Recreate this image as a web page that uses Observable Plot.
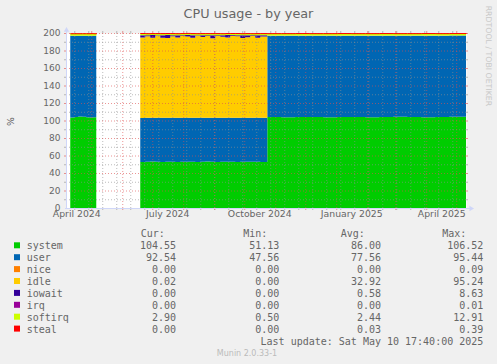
<!DOCTYPE html>
<html>
<head>
<meta charset="utf-8">
<script src="https://cdn.jsdelivr.net/npm/d3@7"></script>
<script src="https://cdn.jsdelivr.net/npm/@observablehq/plot@0.6"></script>
<style>
html, body { margin: 0; padding: 0; background: #F0F0F0; }
#chart { position: relative; width: 497px; height: 364px; overflow: hidden; background: #F0F0F0; }
#chart > svg { position: absolute; left: 0; top: 0; }
</style>
</head>
<body>
<div id="chart"></div>
<script>
// ---------- DATA ----------
const chartTitle = "CPU usage - by year";
const yAxisLabel = "%";
const lastUpdate = "Last update: Sat May 10 17:40:00 2025";
const footerText = "Munin 2.0.33-1";
const watermark = "RRDTOOL / TOBI OETIKER";

const seriesNames = ["system", "user", "nice", "idle", "iowait", "irq", "softirq", "steal"];
const seriesColors = ["#00CC00", "#0066B3", "#FF8000", "#FFCC00", "#330099", "#990099", "#CCFF00", "#FF0000"];

const curValues = ["104.55", "92.54", "0.00", "0.02", "0.00", "0.00", "2.90", "0.00"];
const minValues = ["51.13", "47.56", "0.00", "0.00", "0.00", "0.00", "0.50", "0.00"];
const avgValues = ["86.00", "77.56", "0.00", "32.92", "0.58", "0.00", "2.44", "0.03"];
const maxValues = ["106.52", "95.44", "0.09", "95.24", "8.63", "0.01", "12.91", "0.39"];

const yLabelTicks = [0, 20, 40, 60, 80, 100, 120, 140, 160, 180, 200];
const yMajorTicks = [20, 40, 60, 80, 100, 120, 140, 160, 180, 200];
const yMinorTicks = [10, 30, 50, 70, 90, 110, 130, 150, 170, 190];

const xLabelDates = ["2024-04-16", "2024-07-16", "2024-10-16", "2025-01-16", "2025-04-16"];
const xLabels = ["April 2024", "July 2024", "October 2024", "January 2025", "April 2025"];

const rangeEnd = "2025-05-10T17:40";
const rangeDays = 400;
const minorGridStart = "2024-04-14";

const dates = [
  "2024-04-10","2024-04-14","2024-04-18","2024-04-22","2024-04-26","2024-04-30","2024-05-03","2024-05-06",
  "2024-05-07",
  "2024-06-19","2024-06-24","2024-06-29","2024-07-04","2024-07-09","2024-07-14","2024-07-19","2024-07-24","2024-07-29",
  "2024-08-03","2024-08-08","2024-08-13","2024-08-18","2024-08-23","2024-08-28","2024-09-02","2024-09-07","2024-09-12",
  "2024-09-17","2024-09-22","2024-09-27","2024-10-02","2024-10-07","2024-10-12","2024-10-17",
  "2024-10-24","2024-11-07","2024-11-21","2024-12-05","2024-12-19","2025-01-02","2025-01-16","2025-01-30",
  "2025-02-13","2025-02-27","2025-03-13","2025-03-27","2025-04-10","2025-04-24","2025-05-10T17:40"
];
const system = [
  103.4,104.1,104.6,104.3,103.8,103.5,103.7,103.7,
  null,
  52.6,52.9,53.1,52.8,52.7,53.0,52.9,52.6,52.8,53.0,52.9,52.7,52.8,53.1,52.9,52.7,52.8,53.0,52.9,52.7,52.8,52.9,53.0,52.8,52.7,
  104.0,103.8,103.9,104.1,103.7,103.9,104.0,103.8,103.9,104.2,103.9,103.8,104.0,104.3,104.55
];
const user = [
  93.4,92.7,92.3,92.6,93.1,93.4,93.2,93.2,
  null,
  50.4,50.2,50.1,50.3,50.4,50.2,50.3,50.5,50.3,50.2,50.3,50.4,50.3,50.1,50.2,50.4,50.3,50.2,50.3,50.4,50.3,50.2,50.1,50.3,50.4,
  93.0,93.2,93.1,92.9,93.3,93.1,93.0,93.2,93.1,92.8,93.1,93.2,93.0,92.8,92.54
];
const nice = [
  0,0,0,0,0,0,0,0,
  null,
  0,0,0,0,0,0,0,0,0,0,0,0,0,0,0,0,0,0,0,0,0,0,0,0,0,
  0,0,0,0,0,0,0,0,0,0,0,0,0,0,0
];
const idle = [
  0.02,0.02,0.02,0.02,0.02,0.02,0.02,0.02,
  null,
  92.0,93.3,91.4,93.8,91.5,91.2,93.1,91.8,93.6,92.9,91.4,93.7,92.2,93.3,90.9,93.5,92.6,91.7,93.8,93.1,91.2,92.0,93.6,91.5,92.8,
  0.02,0.02,0.02,0.02,0.02,0.02,0.02,0.02,0.02,0.02,0.02,0.02,0.02,0.02,0.02
];
const iowait = [
  0,0,0,0,0,0,0,0,
  null,
  2.5,1.0,3.0,0.6,2.8,3.2,1.2,2.6,0.8,1.5,2.9,0.7,2.2,1.0,3.4,0.9,1.8,2.7,0.6,1.3,3.1,2.4,0.8,2.9,1.6,
  0,0,0,0,0,0,0,0,0,0,0,0,0,0,0
];
const irq = [
  0,0,0,0,0,0,0,0,
  null,
  0,0,0,0,0,0,0,0,0,0,0,0,0,0,0,0,0,0,0,0,0,0,0,0,0,
  0,0,0,0,0,0,0,0,0,0,0,0,0,0,0
];
const softirq = [
  2.9,2.9,2.8,2.8,2.8,2.9,2.8,2.8,
  null,
  2.3,2.2,2.1,2.2,2.3,2.2,2.2,2.1,2.2,2.3,2.2,2.1,2.2,2.2,2.3,2.2,2.1,2.2,2.2,2.3,2.2,2.2,2.1,2.2,2.2,
  2.8,2.8,2.9,2.8,2.8,2.9,2.8,2.8,2.9,2.8,2.8,2.9,2.8,2.8,2.90
];
const steal = [
  0.02,0.02,0.02,0.02,0.02,0.02,0.02,0.02,
  null,
  0.2,0.2,0.2,0.2,0.2,0.2,0.2,0.2,0.2,0.2,0.2,0.2,0.2,0.2,0.2,0.2,0.2,0.2,0.2,0.2,0.2,0.2,0.2,0.2,0.2,
  0.02,0.02,0.02,0.02,0.02,0.02,0.02,0.02,0.02,0.02,0.02,0.02,0.02,0.02,0.02
];

// ---------- BUILD ----------
const DAY = 864e5;
const parseDate = s => new Date(s.length > 10 ? s + ":00Z" : s + "T00:00:00Z");
const endTime = parseDate(rangeEnd);
const startTime = new Date(+endTime - rangeDays * DAY);

const seriesData = {system, user, nice, idle, iowait, irq, softirq, steal};
const rows = [];
dates.forEach((d, i) => {
  const date = parseDate(d);
  const gap = seriesData.system[i] == null;
  let cum = 0;
  seriesNames.forEach(name => {
    const v = seriesData[name][i];
    rows.push({date, series: name, y1: gap ? NaN : cum, y2: gap ? NaN : cum + v});
    if (!gap) cum += v;
  });
});
const stealTop = rows.filter(r => r.series === "steal");

const xMajor = d3.utcMonth.range(startTime, endTime);
const xMinor = d3.utcDay.range(parseDate(minorGridStart), endTime, 14);
const xLabelRows = xLabelDates.map((d, i) => ({date: parseDate(d), label: xLabels[i]}));

const axisColor = "#CFD6F8";
const minorColor = "#8F8F8F";
const majorColor = "#DE4F4F";
const textColor = "#666666";

const plot = Plot.plot({
  width: 497,
  height: 232,
  marginLeft: 66,
  marginRight: 31,
  marginTop: 33,
  marginBottom: 24,
  style: {background: "transparent", fontFamily: "'DejaVu Sans', sans-serif", color: textColor, overflow: "visible"},
  x: {type: "utc", domain: [startTime, endTime], axis: null},
  y: {type: "linear", domain: [0, 200], axis: null},
  color: {type: "ordinal", domain: seriesNames, range: seriesColors},
  marks: [
    Plot.frame({fill: "#FFFFFF", stroke: "none"}),
    Plot.areaY(rows, {x: "date", y1: "y1", y2: "y2", z: "series", fill: "series", curve: "step-after"}),
    // minor grid
    Plot.ruleY(yMinorTicks, {y: d => d, stroke: minorColor, strokeOpacity: 0.6, strokeDasharray: "1,2"}),
    Plot.ruleX(xMinor, {x: d => d, stroke: minorColor, strokeOpacity: 0.6, strokeDasharray: "1,2"}),
    // major grid
    Plot.ruleY(yMajorTicks, {y: d => d, stroke: majorColor, strokeOpacity: 0.6, strokeDasharray: "1,2"}),
    Plot.ruleX(xMajor, {x: d => d, stroke: majorColor, strokeOpacity: 0.6, strokeDasharray: "1,2"}),
    // top of stack
    Plot.line(stealTop, {x: "date", y: "y2", stroke: "#FF0000", strokeWidth: 1, curve: "step-after"}),
    // tick stubs outside canvas
    Plot.ruleY(yMinorTicks, {y: d => d, x1: new Date(+startTime - 2 * DAY), x2: startTime, stroke: minorColor, strokeOpacity: 0.6}),
    Plot.ruleY(yMinorTicks, {y: d => d, x1: endTime, x2: new Date(+endTime + 2 * DAY), stroke: minorColor, strokeOpacity: 0.6}),
    Plot.ruleY(yMajorTicks, {y: d => d, x1: new Date(+startTime - 2 * DAY), x2: startTime, stroke: majorColor, strokeOpacity: 0.6}),
    Plot.ruleY(yMajorTicks, {y: d => d, x1: endTime, x2: new Date(+endTime + 2 * DAY), stroke: majorColor, strokeOpacity: 0.6}),
    Plot.ruleX(xMinor, {x: d => d, y1: 0, y2: -2.3, stroke: minorColor, strokeOpacity: 0.6}),
    Plot.ruleX(xMinor, {x: d => d, y1: 200, y2: 202.3, stroke: minorColor, strokeOpacity: 0.6}),
    Plot.ruleX(xMajor, {x: d => d, y1: 0, y2: -2.3, stroke: majorColor, strokeOpacity: 0.6}),
    Plot.ruleX(xMajor, {x: d => d, y1: 200, y2: 202.3, stroke: majorColor, strokeOpacity: 0.6}),
    // axes
    Plot.ruleX([startTime], {x: d => d, y1: -1, y2: 202.5, stroke: axisColor}),
    Plot.ruleY([0], {y: d => d, x1: new Date(+startTime - 1 * DAY), x2: new Date(+endTime + 4 * DAY), stroke: axisColor}),
    Plot.dot([0], {x: startTime, y: 203.9, symbol: "triangle", r: 2, fill: axisColor, stroke: "none"}),
    Plot.dot([0], {x: new Date(+endTime + 4.5 * DAY), y: 0, symbol: "triangle", r: 2, rotate: 90, fill: axisColor, stroke: "none"}),
    // labels
    Plot.text(yLabelTicks, {y: d => d, text: d => String(d), frameAnchor: "left", dx: -6, textAnchor: "end", fontSize: 9, fill: textColor}),
    Plot.text(xLabelRows, {x: "date", text: "label", frameAnchor: "bottom", dy: 8, fontSize: 9.3, fill: textColor})
  ]
});
document.getElementById("chart").appendChild(plot);

// ---------- TITLE / LEGEND OVERLAY ----------
const ov = d3.select("#chart").append("svg")
  .attr("width", 497).attr("height", 364)
  .style("pointer-events", "none");

ov.append("text")
  .attr("x", 248.5).attr("y", 17.5)
  .attr("text-anchor", "middle")
  .attr("font-family", "'DejaVu Sans', sans-serif")
  .attr("font-size", 12.8)
  .attr("fill", textColor)
  .text(chartTitle);

ov.append("text")
  .attr("transform", "translate(10,121.7) rotate(-90)")
  .attr("text-anchor", "middle")
  .attr("dominant-baseline", "central")
  .attr("font-family", "'DejaVu Sans', sans-serif")
  .attr("font-size", 9.3)
  .attr("fill", textColor)
  .text(yAxisLabel);

ov.append("text")
  .attr("transform", "translate(485.5,5.7) rotate(90)")
  .attr("text-anchor", "start")
  .attr("font-family", "'DejaVu Sans', sans-serif")
  .attr("font-size", 7.8)
  .attr("fill", "#C8C8C8")
  .text(watermark);

const mono = "'DejaVu Sans Mono', monospace";
const legendFont = 10;
const headerY = 236.5;
const rowY0 = 249.2, rowStep = 11.9;
const headers = [["Cur:", 140.7], ["Min:", 243.3], ["Avg:", 340.7], ["Max:", 442.3]];
headers.forEach(([t, x]) => {
  ov.append("text").attr("x", x).attr("y", headerY)
    .attr("font-family", mono).attr("font-size", legendFont).attr("fill", textColor).text(t);
});
const colEnds = [176, 279.3, 381, 483.3];
const cols = [curValues, minValues, avgValues, maxValues];
seriesNames.forEach((name, i) => {
  const y = rowY0 + rowStep * i;
  ov.append("rect").attr("x", 14).attr("y", y - 6.9).attr("width", 6).attr("height", 6).attr("fill", seriesColors[i]);
  ov.append("text").attr("x", 26.7).attr("y", y)
    .attr("font-family", mono).attr("font-size", legendFont).attr("fill", textColor).text(name);
  cols.forEach((arr, c) => {
    ov.append("text").attr("x", colEnds[c]).attr("y", y).attr("text-anchor", "end")
      .attr("font-family", mono).attr("font-size", legendFont).attr("fill", textColor).text(arr[i]);
  });
});
ov.append("text").attr("x", 483.3).attr("y", 345).attr("text-anchor", "end")
  .attr("font-family", mono).attr("font-size", legendFont).attr("fill", textColor).text(lastUpdate);

ov.append("text").attr("x", 247).attr("y", 356).attr("text-anchor", "middle")
  .attr("font-family", "'DejaVu Sans', sans-serif").attr("font-size", 8).attr("fill", "#BBBBBB").text(footerText);
</script>
</body>
</html>
